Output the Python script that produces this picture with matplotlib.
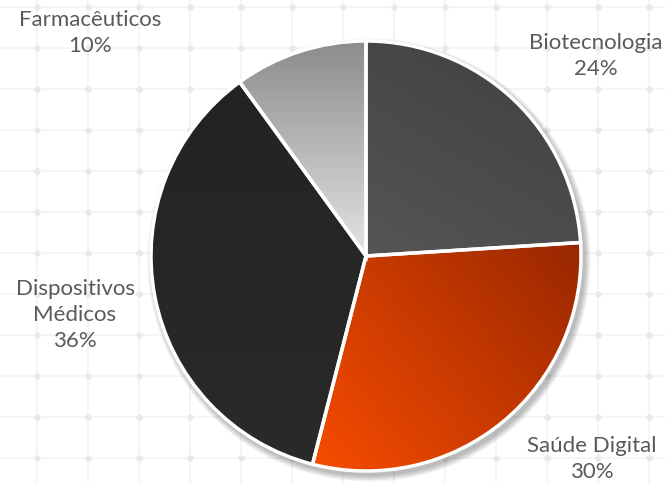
import numpy as np
import matplotlib.pyplot as plt
from matplotlib.colors import to_rgb
from matplotlib.patches import Circle

# slice data, clockwise from the top
labels = ['Biotecnologia', 'Saúde Digital', 'Dispositivos\nMédicos', 'Farmacêuticos']
shares = [24, 30, 36, 10]

# gradient (start colour, end colour, direction in degrees)
grads = [('#555555', '#3f3f3f', 60),
         ('#f84c00', '#982700', 35),
         ('#2a2a2a', '#232323', 90),
         ('#e4e4e4', '#8c8c8c', 90)]

W, H = 665, 483
fig = plt.figure(figsize=(W / 100, H / 100), dpi=100)
ax = fig.add_axes([0, 0, 1, 1])
ax.set_xlim(0, W)
ax.set_ylim(0, H)
ax.axis('off')

# faint background grid with nodes
gx = np.arange(37, W, 51)
gy = H - np.arange(7, H, 41)
for x in gx:
    ax.axvline(x, color='#f4f4f4', lw=1.3, zorder=0)
for y in gy:
    ax.axhline(y, color='#f4f4f4', lw=1.3, zorder=0)
XX, YY = np.meshgrid(gx, gy)
ax.scatter(XX.ravel(), YY.ravel(), s=22, color='#e9e9e9', zorder=0.5, lw=0)

cx, cy, r = 366, H - 256, 215

# soft shadow
for i in range(8):
    ax.add_patch(Circle((cx + 3, cy - 4), r + 1 + i * 0.8, color='#000000',
                        alpha=0.035, lw=0, zorder=1))

wedges, _ = ax.pie(shares, startangle=90, counterclock=False, center=(cx, cy),
                   radius=r, wedgeprops=dict(edgecolor='white', linewidth=2.5),
                   frame=False)

n = 300
u = np.linspace(0, 1, n)
U, V = np.meshgrid(u, u)
for w, (c1, c2, ang) in zip(wedges, grads):
    a = np.deg2rad(ang)
    t = (U * np.cos(a) + V * np.sin(a))
    t = (t - t.min()) / (t.max() - t.min())
    c1, c2 = np.array(to_rgb(c1)), np.array(to_rgb(c2))
    img = c1[None, None, :] * (1 - t[..., None]) + c2[None, None, :] * t[..., None]
    w.set_facecolor('none')
    w.set_zorder(3)
    bb = w.get_path().get_extents()
    im = ax.imshow(img, extent=(bb.x0, bb.x1, bb.y0, bb.y1), origin='lower',
                   zorder=2, interpolation='bilinear')
    im.set_clip_path(w)
ax.set_xlim(0, W)
ax.set_ylim(0, H)
ax.set_aspect('equal')

# outside labels
label_pos = [(596, H - 56), (592, H - 459), (75, H - 315), (90, H - 33)]
for lab, val, (x, y) in zip(labels, shares, label_pos):
    ax.text(x, y, f'{lab}\n{val}%', ha='center', va='center', fontsize=16,
            family=['Lato', 'DejaVu Sans'], color='#5a5a5a', linespacing=1.38,
            zorder=5)

fig.savefig('out.png', dpi=100)
